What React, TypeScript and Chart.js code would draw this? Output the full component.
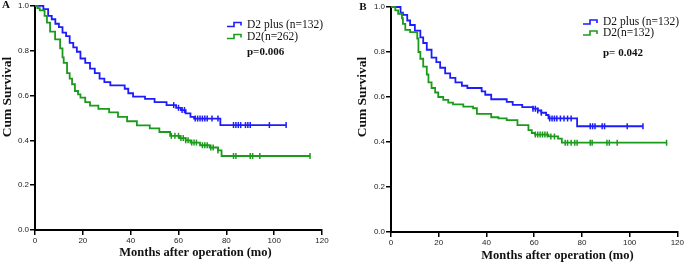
import React, { useEffect, useRef } from 'react';
import { Chart, registerables } from 'chart.js';

Chart.register(...registerables);

// ---------- data ----------
const xTickValues = [0, 20, 40, 60, 80, 100, 120];
const yTickValues = [0, 0.2, 0.4, 0.6, 0.8, 1.0];
const xTitle = 'Months after operation (mo)';
const yTitle = 'Cum Survival';

// Panel A – D2 plus (n=132)
const aPlusTime = [0, 3.5, 5.5, 7, 8.5, 10, 11.5, 13, 14.5, 16, 17.5, 19, 21, 23, 25, 27, 29, 31.5, 37.5, 39, 41, 46, 50, 55, 59, 61, 63, 65, 66.5, 77.5, 105];
const aPlusSurv = [1, 0.985, 0.955, 0.94, 0.92, 0.905, 0.88, 0.865, 0.835, 0.815, 0.795, 0.765, 0.745, 0.72, 0.7, 0.675, 0.66, 0.645, 0.63, 0.61, 0.595, 0.585, 0.57, 0.557, 0.545, 0.535, 0.52, 0.505, 0.497, 0.468, 0.468];
const aPlusCensor = [58, 60, 61.5, 62.5, 67, 68, 69, 70, 71, 72, 74, 76.5, 83, 84, 85, 86, 88, 89, 90, 98, 105];

// Panel A – D2 (n=262)
const aD2Time = [0, 1, 2, 4, 5, 6.3, 8.4, 10.5, 11.5, 12, 13.4, 14.5, 15.5, 16.7, 18, 19, 21, 23, 26.5, 31, 34.7, 38.5, 42.6, 48, 52, 56.5, 60.5, 63, 65, 69, 73, 76.5, 78, 115];
const aD2Surv = [1, 0.99, 0.98, 0.955, 0.925, 0.885, 0.85, 0.81, 0.77, 0.745, 0.7, 0.675, 0.65, 0.62, 0.605, 0.59, 0.57, 0.555, 0.54, 0.525, 0.505, 0.485, 0.467, 0.453, 0.437, 0.42, 0.41, 0.4, 0.39, 0.378, 0.368, 0.355, 0.33, 0.33];
const aD2Censor = [57, 58.5, 60, 61, 62, 63, 64, 65.5, 66.5, 67.5, 70, 71, 72, 73.5, 74.5, 76.5, 83, 84, 90, 91, 94, 115];

// Panel B – D2 plus (n=132)
const bPlusTime = [0, 4, 5, 6.8, 8, 10, 12.3, 13.5, 15, 17, 19, 20.6, 22.7, 24.8, 27, 29.7, 32, 38, 39.5, 42, 48.5, 51, 55, 59.5, 61.5, 63, 65, 66, 78, 105.6];
const bPlusSurv = [1, 0.975, 0.965, 0.94, 0.92, 0.895, 0.865, 0.84, 0.81, 0.775, 0.755, 0.73, 0.705, 0.685, 0.665, 0.65, 0.64, 0.625, 0.61, 0.59, 0.578, 0.565, 0.555, 0.548, 0.54, 0.53, 0.52, 0.505, 0.47, 0.47];
const bPlusCensor = [59.5, 60.5, 61.5, 63, 66.5, 67.5, 68.5, 69.5, 71, 72.5, 74, 75.5, 83.5, 84.5, 85.5, 88.5, 89.5, 99, 105.6];

// Panel B – D2 (n=132)
const bD2Time = [0, 1.8, 3, 4.6, 5, 6, 8, 11, 11.5, 12.3, 13.5, 15, 15.7, 17, 18.5, 19.8, 21.9, 24, 26, 30.3, 34.4, 36, 42, 45, 48.5, 53, 57.6, 59, 60.4, 66, 70, 71.6, 115.5];
const bD2Surv = [1, 0.985, 0.97, 0.95, 0.925, 0.898, 0.888, 0.86, 0.8, 0.77, 0.735, 0.7, 0.665, 0.64, 0.62, 0.6, 0.587, 0.575, 0.567, 0.557, 0.55, 0.525, 0.51, 0.505, 0.497, 0.475, 0.453, 0.44, 0.433, 0.425, 0.415, 0.397, 0.397];
const bD2Censor = [60.5, 61.5, 62.5, 63.5, 64.5, 65.5, 67, 68.5, 73, 74, 75.5, 77, 78, 83.5, 84.3, 90.5, 91.5, 94.8, 115.5];

const panelALabels = ['D2 plus (n=132)', 'D2(n=262)'];
const panelBLabels = ['D2 plus (n=132)', 'D2(n=132)'];
const panelAP = 'p=0.006';
const panelBP = 'p= 0.042';

// ---------- styling ----------
const BLUE = '#1d1dfb';
const GREEN = '#1c9a1c';
const SERIF = '"Liberation Serif", "Times New Roman", serif';
const SANS = '"Liberation Sans", Arial, sans-serif';

function survAt(times: number[], surv: number[], t: number) {
  let v = surv[0];
  for (let i = 0; i < times.length; i++) {
    if (times[i] <= t) v = surv[i];
  }
  return v;
}

type PanelLayout = {
  canvasLeft: number;
  width: number;
  height: number;
  area: { left: number; right: number; top: number; bottom: number };
  letter: { x: number; y: number };
  yTitle: { x: number; y: number };
  xTitle: { x: number; y: number };
  legendIconX: number;
  legendTextX: number;
  legendY: number[];
  pY: number;
};

type PanelProps = {
  letter: string;
  labels: string[];
  pText: string;
  plusT: number[];
  plusS: number[];
  plusC: number[];
  d2T: number[];
  d2S: number[];
  d2C: number[];
  layout: PanelLayout;
};

function Panel(props: PanelProps) {
  const ref = useRef<HTMLCanvasElement | null>(null);
  useEffect(() => {
    const { layout } = props;
    const canvas = ref.current!;
    const L = layout;

    const decor = {
      id: 'decor',
      afterDraw(chart: any) {
        const ctx = chart.ctx as CanvasRenderingContext2D;
        ctx.save();
        ctx.fillStyle = '#111';
        // panel letter
        ctx.font = `bold 11px ${SERIF}`;
        ctx.textAlign = 'center';
        ctx.textBaseline = 'middle';
        ctx.fillText(props.letter, L.letter.x, L.letter.y);
        // y title
        ctx.save();
        ctx.translate(L.yTitle.x, L.yTitle.y);
        ctx.rotate(-Math.PI / 2);
        ctx.font = `bold 13.5px ${SERIF}`;
        ctx.fillText(yTitle, 0, 0);
        ctx.restore();
        // x title
        ctx.font = `bold 12.5px ${SERIF}`;
        ctx.fillText(xTitle, L.xTitle.x, L.xTitle.y);
        // legend
        const cols = [BLUE, GREEN];
        ctx.textAlign = 'left';
        for (let i = 0; i < 2; i++) {
          const y = L.legendY[i];
          const x0 = L.legendIconX;
          ctx.strokeStyle = cols[i];
          ctx.lineWidth = 1.6;
          ctx.beginPath();
          ctx.moveTo(x0, y + 2);
          ctx.lineTo(x0 + 7, y + 2);
          ctx.lineTo(x0 + 7, y - 2);
          ctx.lineTo(x0 + 14, y - 2);
          ctx.lineTo(x0 + 14, y + 1);
          ctx.stroke();
          ctx.font = `11.5px ${SERIF}`;
          ctx.fillStyle = '#111';
          ctx.fillText(props.labels[i], L.legendTextX, y);
        }
        ctx.font = `bold 11px ${SERIF}`;
        ctx.fillText(props.pText, L.legendTextX, L.pY);
        ctx.restore();
      },
    };

    const lineDs = (t: number[], s: number[], color: string) => ({
      type: 'line',
      data: t.map((x, i) => ({ x, y: s[i] })),
      borderColor: color,
      borderWidth: 1.8,
      pointRadius: 0,
      stepped: 'before',
      fill: false,
      clip: 6,
    });
    const censorDs = (c: number[], t: number[], s: number[], color: string) => ({
      type: 'line',
      data: c.map((x) => ({ x, y: survAt(t, s, x) })),
      showLine: false,
      borderColor: color,
      backgroundColor: color,
      borderWidth: 1.5,
      pointStyle: 'line',
      rotation: 90,
      pointRadius: 3,
      pointHoverRadius: 3,
      clip: 6,
    });

    const chart = new Chart(canvas, {
      type: 'line',
      data: {
        datasets: [
          lineDs(props.d2T, props.d2S, GREEN),
          censorDs(props.d2C, props.d2T, props.d2S, GREEN),
          lineDs(props.plusT, props.plusS, BLUE),
          censorDs(props.plusC, props.plusT, props.plusS, BLUE),
        ] as any,
      },
      options: {
        animation: false,
        responsive: false,
        devicePixelRatio: 1,
        events: [],
        layout: {
          padding: {
            left: 0,
            top: L.area.top,
            right: L.width - L.area.right,
            bottom: 0,
          },
        },
        plugins: {
          legend: { display: false },
          tooltip: { enabled: false },
        },
        scales: {
          x: {
            type: 'linear',
            min: 0,
            max: 120,
            afterBuildTicks: (scale: any) => {
              scale.ticks = xTickValues.map((v) => ({ value: v }));
            },
            afterFit: (scale: any) => {
              scale.height = L.height - L.area.bottom;
            },
            ticks: {
              color: '#222',
              font: { family: SANS, size: 8 },
              padding: 1,
              maxRotation: 0,
              callback: (v: any) => String(v),
            },
            grid: {
              display: true,
              drawOnChartArea: false,
              drawTicks: true,
              tickLength: 5,
              color: '#000',
              lineWidth: 1.5,
            },
            border: { display: true, color: '#000', width: 2 },
          },
          y: {
            type: 'linear',
            min: 0,
            max: 1,
            afterBuildTicks: (scale: any) => {
              scale.ticks = yTickValues.map((v) => ({ value: v }));
            },
            afterFit: (scale: any) => {
              scale.width = L.area.left;
            },
            ticks: {
              color: '#222',
              font: { family: SANS, size: 8 },
              padding: 1,
              callback: (v: any) => Number(v).toFixed(1),
            },
            grid: {
              display: true,
              drawOnChartArea: false,
              drawTicks: true,
              tickLength: 5,
              color: '#000',
              lineWidth: 1.5,
            },
            border: { display: true, color: '#000', width: 2 },
          },
        },
      } as any,
      plugins: [decor],
    });
    return () => chart.destroy();
  }, []);

  const L = props.layout;
  return (
    <canvas
      ref={ref}
      width={L.width}
      height={L.height}
      style={{ position: 'absolute', left: L.canvasLeft, top: 0, width: L.width, height: L.height }}
    />
  );
}

const layoutA: PanelLayout = {
  canvasLeft: 0,
  width: 342,
  height: 263,
  area: { left: 35, right: 322, top: 5, bottom: 230 },
  letter: { x: 6, y: 5 },
  yTitle: { x: 8, y: 97 },
  xTitle: { x: 195.5, y: 252.5 },
  legendIconX: 227,
  legendTextX: 247,
  legendY: [24.5, 36.5],
  pY: 52,
};

const layoutB: PanelLayout = {
  canvasLeft: 342,
  width: 343,
  height: 263,
  area: { left: 49, right: 336, top: 7, bottom: 232 },
  letter: { x: 21, y: 7 },
  yTitle: { x: 20.5, y: 97 },
  xTitle: { x: 215.5, y: 256 },
  legendIconX: 241,
  legendTextX: 261,
  legendY: [22, 33],
  pY: 53,
};

export default function App() {
  return (
    <div style={{ position: 'absolute', left: 0, top: 0, width: 685, height: 263, background: '#fff' }}>
      <Panel
        letter="A"
        labels={panelALabels}
        pText={panelAP}
        plusT={aPlusTime}
        plusS={aPlusSurv}
        plusC={aPlusCensor}
        d2T={aD2Time}
        d2S={aD2Surv}
        d2C={aD2Censor}
        layout={layoutA}
      />
      <Panel
        letter="B"
        labels={panelBLabels}
        pText={panelBP}
        plusT={bPlusTime}
        plusS={bPlusSurv}
        plusC={bPlusCensor}
        d2T={bD2Time}
        d2S={bD2Surv}
        d2C={bD2Censor}
        layout={layoutB}
      />
    </div>
  );
}
